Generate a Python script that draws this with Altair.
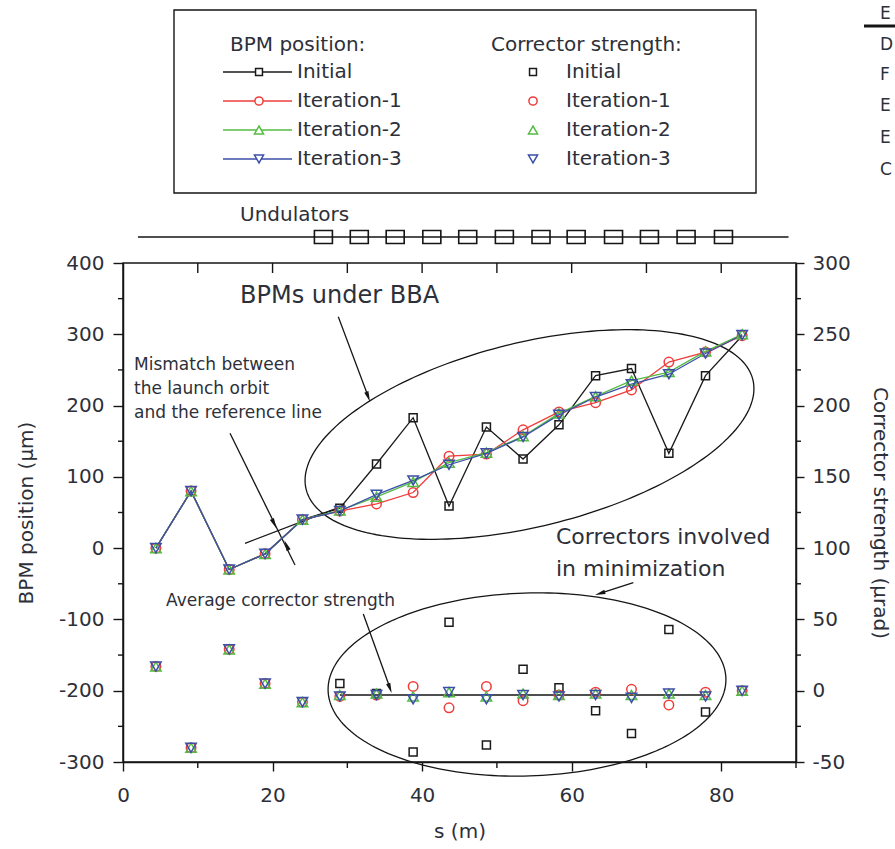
import altair as alt
import numpy as np
import pandas as pd

# ---------------- data ----------------
s_pos = [4.4, 9.1, 14.2, 19.0, 24.0, 29.0, 33.9, 38.8, 43.6, 48.6, 53.5, 58.3, 63.2, 68.0, 73.0, 77.9, 82.8]

bpm_initial = [0, 80, -30, -8, 40, 56, 118, 183, 59, 170, 125, 173, 242, 252, 133, 242, 298]
bpm_iter1 = [0, 80, -30, -8, 40, 52, 62, 78, 129, 132, 166, 191, 204, 222, 261, 275, 298]
bpm_iter2 = [0, 80, -30, -8, 40, 53, 72, 93, 120, 134, 157, 189, 213, 235, 247, 276, 300]
bpm_iter3 = [0, 80, -30, -8, 40, 52, 75, 95, 117, 133, 156, 187, 212, 230, 244, 273, 299]

cor_initial = [17, -40, 29, 5, -8, 5, -2, -43, 48, -38, 15, 2, -14, -30, 43, -15, 0]
cor_iter1 = [17, -40, 29, 5, -8, -4, -3, 3, -12, 3, -7, -3, -1, 1, -10, -1, 0]
cor_iter2 = [17, -40, 29, 5, -8, -3, -2, -4, -1, -4, -2, -3, -2, -3, -2, -3, 0]
cor_iter3 = [17, -40, 29, 5, -8, -4, -3, -6, -1, -6, -3, -4, -3, -5, -2, -4, 0]

avg_s = [29.0, 77.9]
avg_strength = [-3, -3]

undulator_s = [26.8, 31.6, 36.4, 41.3, 46.1, 51.0, 55.9, 60.6, 65.6, 70.4, 75.3, 80.3]
beamline_s = [2.0, 89.0]

series_names = ["Initial", "Iteration-1", "Iteration-2", "Iteration-3"]
x_ticks = [0, 20, 40, 60, 80]
x_minor = [10, 30, 50, 70, 90]
x_top_ticks = [10, 20, 30, 40, 50, 60, 70, 80]
yl_ticks = [-300, -200, -100, 0, 100, 200, 300, 400]
yl_minor = [-250, -150, -50, 50, 150, 250, 350]
yr_ticks = [-50, 0, 50, 100, 150, 200, 250, 300]
yr_minor = [-25, 25, 75, 125, 175, 225, 275]
side_letters = ["E", "D", "F", "E", "E", "C"]

# ---------------- layout / style ----------------
W, H = 673, 499
OX, OY = 123, 263
X_DOM = [0, 90]
L_DOM = [-300, 400]
R_DOM = [-50, 300]
FONT = "DejaVu Sans"
TXT = "#2d3039"
INK = "#151515"
COLORS = ["#1a1a1a", "#f03c3c", "#55bb44", "#3b4fa8"]
SHAPES = ["square", "circle", "triangle-up", "triangle-down"]
MSIZE = [64, 90, 110, 110]


def ds(xp):
    return X_DOM[0] + (np.asarray(xp, dtype=float) - OX) / W * (X_DOM[1] - X_DOM[0])


def dv(yp):
    return L_DOM[1] - (np.asarray(yp, dtype=float) - OY) / H * (L_DOM[1] - L_DOM[0])


def rx(xp):
    return xp - OX


def ry(yp):
    return yp - OY


neg_expr = "datum.value < 0 ? '-' + abs(datum.value) : '' + datum.value"

xscale = alt.Scale(domain=X_DOM, nice=False, zero=False)
ylscale = alt.Scale(domain=L_DOM, nice=False, zero=False)
yrscale = alt.Scale(domain=R_DOM, nice=False, zero=False)

common_axis = dict(
    tickWidth=1.4, tickColor=INK, domainColor=INK, domainWidth=1.5,
    labelFont=FONT, labelFontSize=20, labelColor=TXT,
    titleFont=FONT, titleFontSize=20, titleFontWeight="normal", titleColor=TXT,
    grid=False, labelFlush=False, labelOverlap=False,
)
x_axis = alt.Axis(values=x_ticks, tickSize=9, labelPadding=14, title="s (m)",
                  titlePadding=16, orient="bottom", **common_axis)
yl_axis = alt.Axis(values=yl_ticks, tickSize=10, labelPadding=9, title="BPM position (µm)",
                   titlePadding=22, orient="left", labelExpr=neg_expr, **common_axis)
yr_axis = alt.Axis(values=yr_ticks, tickSize=8, labelPadding=8, title="Corrector strength (µrad)",
                   titlePadding=19, orient="right", labelExpr=neg_expr, **common_axis)


def X(field="s"):
    return alt.X(f"{field}:Q", scale=xscale, axis=x_axis)


def YL(field="v"):
    return alt.Y(f"{field}:Q", scale=ylscale, axis=yl_axis)


def YR(field="v"):
    return alt.Y(f"{field}:Q", scale=yrscale, axis=yr_axis)


def text_at(text, xp, yp, size, align="left", color=TXT):
    return alt.Chart(pd.DataFrame({"t": [text]})).mark_text(
        align=align, baseline="middle", font=FONT, fontSize=size, color=color).encode(
        x=alt.value(rx(xp)), y=alt.value(ry(yp)), text="t:N")


def ellipse(cx, cy, a, b, phi_deg, n=200):
    t = np.linspace(0, 2 * np.pi, n + 1)
    phi = np.radians(phi_deg)
    xp = cx + a * np.cos(t) * np.cos(phi) - b * np.sin(t) * np.sin(phi)
    yp = cy + a * np.cos(t) * np.sin(phi) + b * np.sin(t) * np.cos(phi)
    df = pd.DataFrame({"s": ds(xp), "v": dv(yp), "i": np.arange(n + 1)})
    return alt.Chart(df).mark_line(color=INK, strokeWidth=1.3).encode(
        x=X("s"), y=YL("v"), order="i:Q")


def seg(x1, y1, x2, y2, width=1.3):
    df = pd.DataFrame({"s": [float(ds(x1))], "v": [float(dv(y1))],
                       "s2": [float(ds(x2))], "v2": [float(dv(y2))]})
    return alt.Chart(df).mark_rule(color=INK, strokeWidth=width).encode(
        x=X("s"), y=YL("v"), x2="s2:Q", y2="v2:Q")


HEAD = "M0,1L-0.42,-1L0.42,-1Z"


def head(tipx, tipy, fromx, fromy, size=110):
    dx, dy = tipx - fromx, tipy - fromy
    n = np.hypot(dx, dy)
    ux, uy = dx / n, dy / n
    half = np.sqrt(size) / 2
    cx, cy = tipx - ux * half, tipy - uy * half
    ang = float(np.degrees(np.arctan2(-ux, uy))) % 360
    df = pd.DataFrame({"s": [float(ds(cx))], "v": [float(dv(cy))]})
    return alt.Chart(df).mark_point(shape=HEAD, filled=True, size=size, color=INK,
                                    opacity=1, angle=ang).encode(x=X("s"), y=YL("v"))


left = []

# minor ticks and top ticks
left.append(alt.Chart(pd.DataFrame({"v": yl_minor})).mark_rule(color=INK, strokeWidth=1.4).encode(
    x=alt.value(-5), x2=alt.value(0), y=YL("v")))
left.append(alt.Chart(pd.DataFrame({"s": x_minor})).mark_rule(color=INK, strokeWidth=1.4).encode(
    x=X("s"), y=alt.value(H), y2=alt.value(H + 6)))
left.append(alt.Chart(pd.DataFrame({"s": x_top_ticks})).mark_rule(color=INK, strokeWidth=1.4).encode(
    x=X("s"), y=alt.value(0), y2=alt.value(10)))

# annotation ellipses / arrows
left.append(ellipse(529.5, 434.5, 230, 92, -13.8))
left.append(ellipse(527, 684.5, 199, 91.5, -1.8))
left.append(seg(338.3, 316.7, 368, 396))
left.append(head(370, 401.7, 338.3, 316.7))
left.append(seg(230, 433.3, 295, 565))
left.append(seg(245, 543.3, 340, 507))
left.append(head(276.5, 528.5, 230, 433.3))
left.append(head(284.5, 540.5, 295, 565))
left.append(seg(363.3, 614, 390, 688))
left.append(head(391.7, 693.3, 363.3, 614))
left.append(seg(633.3, 582.7, 600, 593.3))
left.append(head(595, 595, 633.3, 582.7))

# BPM series
for k, (name, vals) in enumerate(zip(series_names, [bpm_initial, bpm_iter1, bpm_iter2, bpm_iter3])):
    df = pd.DataFrame({"s": s_pos, "v": vals, "series": name})
    left.append(alt.Chart(df).mark_line(color=COLORS[k], strokeWidth=1.3).encode(x=X("s"), y=YL("v")))
for k, (name, vals) in enumerate(zip(series_names, [bpm_initial, bpm_iter1, bpm_iter2, bpm_iter3])):
    df = pd.DataFrame({"s": s_pos, "v": vals, "series": name})
    if k == 0:
        df = df.iloc[5:16]
    left.append(alt.Chart(df).mark_point(shape=SHAPES[k], filled=False, size=MSIZE[k],
                                         strokeWidth=1.5, color=COLORS[k], opacity=1).encode(
        x=X("s"), y=YL("v")))

# undulators above the frame
left.append(alt.Chart(pd.DataFrame({"s": [beamline_s[0]], "s2": [beamline_s[1]]})).mark_rule(
    color=INK, strokeWidth=1.3).encode(x=X("s"), x2="s2:Q", y=alt.value(ry(237))))
left.append(alt.Chart(pd.DataFrame({"s": undulator_s})).mark_point(
    shape="M-1,-0.72L1,-0.72L1,0.72L-1,0.72Z", filled=False, size=324, strokeWidth=1.6,
    color=INK, opacity=1).encode(x=X("s"), y=alt.value(ry(237))))
left.append(text_at("Undulators", 240, 215, 20))

# annotation texts
left.append(text_at("BPMs under BBA", 240, 296, 24))
for i, line in enumerate(["Mismatch between", "the launch orbit", "and the reference line"]):
    left.append(text_at(line, 134, 365 + i * 23.8, 17))
left.append(text_at("Average corrector strength", 166, 601, 17))
left.append(text_at("Correctors involved", 556, 537, 22))
left.append(text_at("in minimization", 556, 569, 22))

# legend box
left.append(alt.Chart(pd.DataFrame({"a": [0]})).mark_rect(fill="white", fillOpacity=0, stroke=INK,
                                                         strokeWidth=1.4).encode(
    x=alt.value(rx(174)), x2=alt.value(rx(756)), y=alt.value(ry(10)), y2=alt.value(ry(193))))
left.append(text_at("BPM position:", 230, 45, 20))
left.append(text_at("Corrector strength:", 491, 45, 20))
row_y = [72, 101, 130, 159]
for k, name in enumerate(series_names):
    yv = ry(row_y[k])
    left.append(alt.Chart(pd.DataFrame({"a": [0]})).mark_rule(color=COLORS[k], strokeWidth=1.4).encode(
        x=alt.value(rx(223)), x2=alt.value(rx(292)), y=alt.value(yv)))
    for mx in (259, 533):
        left.append(alt.Chart(pd.DataFrame({"a": [0]})).mark_point(
            shape=SHAPES[k], filled=True, fill="white", size=MSIZE[k] * 0.75, strokeWidth=1.5,
            color=COLORS[k], stroke=COLORS[k], opacity=1).encode(x=alt.value(rx(mx)), y=alt.value(yv)))
    left.append(text_at(name, 297, row_y[k], 20))
    left.append(text_at(name, 566, row_y[k], 20))

# fragment of a neighbouring table at the right edge
left.append(alt.Chart(pd.DataFrame({"a": [0]})).mark_rule(color=INK, strokeWidth=3).encode(
    x=alt.value(rx(864)), x2=alt.value(rx(900)), y=alt.value(ry(26))))
side_y = [14, 45, 75, 106, 138, 170]
for ch, yy in zip(side_letters, side_y):
    left.append(text_at(ch, 880, yy, 17))

# ---------------- corrector strengths (right axis) ----------------
right = []
right.append(alt.Chart(pd.DataFrame({"v": yr_minor})).mark_rule(color=INK, strokeWidth=1.4).encode(
    x=alt.value(W), x2=alt.value(W + 5), y=YR("v")))
right.append(alt.Chart(pd.DataFrame({"s": avg_s, "v": avg_strength})).mark_line(
    color=INK, strokeWidth=1.6).encode(x=X("s"), y=YR("v")))
for k, (name, vals) in enumerate(zip(series_names, [cor_initial, cor_iter1, cor_iter2, cor_iter3])):
    df = pd.DataFrame({"s": s_pos, "v": vals, "series": name})
    if k == 0:
        df = df.iloc[5:16]
    right.append(alt.Chart(df).mark_point(shape=SHAPES[k], filled=False, size=MSIZE[k],
                                          strokeWidth=1.5, color=COLORS[k], opacity=1).encode(
        x=X("s"), y=YR("v")))

chart = alt.layer(alt.layer(*left), alt.layer(*right)).resolve_scale(y="independent").properties(
    width=W, height=H,
    autosize=alt.AutoSizeParams(type="none"),
    padding={"left": OX, "top": OY, "right": 895 - OX - W, "bottom": 849 - OY - H},
    background="white",
).configure_view(stroke=INK, strokeWidth=1.5)

chart.save("out.html", embed_options={"renderer": "svg", "actions": False})
